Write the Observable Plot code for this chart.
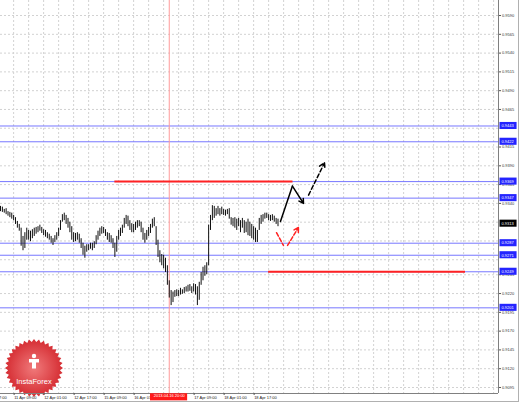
<!DOCTYPE html>
<html><head><meta charset="utf-8">
<script src="https://cdn.jsdelivr.net/npm/d3@7"></script>
<script src="https://cdn.jsdelivr.net/npm/@observablehq/plot@0.6"></script>
<style>
html,body{margin:0;padding:0;background:#fff;}
#chart{width:519px;height:402px;overflow:hidden;position:relative;}
</style></head><body><div id="chart"></div>
<script>
// Hourly bars (bar index = hours since 11 Apr 02:00, weekend skipped)
const highs = [
0.9336,0.9335,0.9332,0.9333,0.9329,0.9328,0.9327,0.9324,0.9321,0.9316,
0.9312,0.9307,0.9296,0.9301,0.9307,0.9304,0.9303,0.9305,0.9307,0.9308,
0.9309,0.9311,0.9308,0.9305,0.9304,0.9301,0.9299,0.9296,0.9293,0.9297,
0.9301,0.9307,0.9317,0.9325,0.9327,0.9324,0.9320,0.9315,0.9309,0.9301,
0.9300,0.9301,0.9299,0.9293,0.9287,0.9283,0.9285,0.9285,0.9287,0.9287,
0.9289,0.9297,0.9303,0.9307,0.9309,0.9308,0.9305,0.9301,0.9300,0.9297,
0.9293,0.9287,0.9296,0.9304,0.9307,0.9311,0.9320,0.9324,0.9323,0.9317,
0.9313,0.9312,0.9315,0.9317,0.9317,0.9315,0.9307,0.9300,0.9304,0.9308,
0.9312,0.9319,0.9321,0.9309,0.9291,0.9277,0.9272,0.9271,0.9267,0.9257,
0.9237,0.9224,0.9222,0.9224,0.9225,0.9224,0.9227,0.9225,0.9228,0.9229,
0.9231,0.9232,0.9229,0.9233,0.9232,0.9229,0.9235,0.9248,0.9255,0.9257,
0.9261,0.9311,0.9324,0.9337,0.9336,0.9333,0.9336,0.9333,0.9335,0.9332,
0.9331,0.9332,0.9333,0.9321,0.9320,0.9321,0.9319,0.9320,0.9317,0.9320,
0.9317,0.9315,0.9319,0.9315,0.9312,0.9309,0.9307,0.9304,0.9320,0.9324,
0.9325,0.9327,0.9327,0.9325,0.9324,0.9325,0.9323,0.9320,0.9319];
const lows = [
0.9329,0.9328,0.9327,0.9325,0.9323,0.9321,0.9319,0.9317,0.9312,0.9307,
0.9303,0.9283,0.9277,0.9280,0.9291,0.9291,0.9289,0.9293,0.9296,0.9299,
0.9301,0.9303,0.9300,0.9297,0.9295,0.9293,0.9291,0.9287,0.9284,0.9288,
0.9291,0.9296,0.9304,0.9315,0.9317,0.9312,0.9307,0.9301,0.9291,0.9288,
0.9289,0.9291,0.9287,0.9280,0.9271,0.9267,0.9275,0.9277,0.9279,0.9277,
0.9280,0.9285,0.9291,0.9296,0.9299,0.9300,0.9296,0.9291,0.9288,0.9287,
0.9280,0.9268,0.9275,0.9291,0.9296,0.9300,0.9307,0.9312,0.9309,0.9304,
0.9301,0.9301,0.9304,0.9307,0.9309,0.9301,0.9291,0.9287,0.9291,0.9296,
0.9300,0.9307,0.9309,0.9284,0.9268,0.9261,0.9257,0.9253,0.9248,0.9231,
0.9214,0.9204,0.9208,0.9215,0.9216,0.9216,0.9218,0.9219,0.9220,0.9222,
0.9222,0.9223,0.9220,0.9222,0.9218,0.9204,0.9211,0.9231,0.9237,0.9243,
0.9245,0.9257,0.9304,0.9317,0.9320,0.9323,0.9325,0.9323,0.9325,0.9324,
0.9323,0.9325,0.9319,0.9311,0.9309,0.9307,0.9304,0.9309,0.9301,0.9307,
0.9300,0.9301,0.9297,0.9296,0.9293,0.9291,0.9288,0.9288,0.9304,0.9312,
0.9315,0.9319,0.9320,0.9317,0.9316,0.9317,0.9315,0.9312,0.9309];

const blueLevels = [0.9443, 0.9422, 0.9369, 0.9347, 0.9287, 0.9271, 0.9249, 0.9201];
const currentPrice = 0.9313;
// grid levels of the price scale; the labels hidden under level boxes are left out of the labelled list
const priceGrid = [0.9590,0.9565,0.9540,0.9515,0.9490,0.9465,0.9440,0.9415,0.9390,0.9365,0.9340,
  0.9315,0.9290,0.9265,0.9245,0.9220,0.9195,0.9170,0.9145,0.9120,0.9095];
const priceLabels = [0.9590,0.9565,0.9540,0.9515,0.9490,0.9465,0.9415,0.9390,0.9365,0.9340,
  0.9245,0.9220,0.9195,0.9170,0.9145,0.9120,0.9095];
const timeTickIdx = [-9, 7, 23, 39, 55, 71, 103, 119, 135];
const timeTickLabels = ["10 Apr 17:00","11 Apr 09:00","12 Apr 01:00","12 Apr 17:00","15 Apr 09:00",
  "16 Apr 01:00","17 Apr 09:00","18 Apr 01:00","18 Apr 17:00"];
const markerIdx = 90;
const markerLabel = "2013.04.16 20:00";

// red level segments
const redLevel = [0.9369, 0.9249];
const redFrom = [61, 143];
const redTo = [156, 248];

// black forecast arrow
const blackIdx = [149.3, 155.7, 161.6];
const blackPrice = [0.9316, 0.9363, 0.9340];
const blackDashFrom = [164.3, 0.9351];
const blackDashTo = [172.8, 0.9394];
// red alternative arrow
const redArrIdx = [147.2, 150.9, 153.1, 158.9];
const redArrPrice = [0.9301, 0.9284, 0.9284, 0.9308];

const bars = highs.map((h, i) => ({i, high: h, low: lows[i]}));
const levelRows = blueLevels.map(v => ({v}));
const redSegs = redLevel.map((v, k) => ({v, a: redFrom[k], b: redTo[k]}));
const blackPts = blackIdx.map((x, k) => ({x, y: blackPrice[k]}));

const xMax = 265.6, yMin = 0.9087, yMax = 0.9610;
const boxX1 = 266.4, boxX2 = 275.5, boxH = 0.00047;
const fmt = d => d.toFixed(4);

function logoMark() {
  const g = d3.create("svg:g");
  const defs = g.append("defs");
  const grad = defs.append("radialGradient").attr("id", "lg");
  grad.append("stop").attr("offset", "0%").attr("stop-color", "#f07a7b");
  grad.append("stop").attr("offset", "100%").attr("stop-color", "#d52c32");
  const cx = 34, cy = 368, R = 29, r = 26, n = 36;
  const pts = d3.range(2 * n).map(k => {
    const a = k * Math.PI / n, rr = k % 2 ? r : R;
    return [cx + rr * Math.sin(a), cy - rr * Math.cos(a)];
  });
  g.append("path").attr("d", "M" + pts.join("L") + "Z").attr("fill", "url(#lg)");
  g.append("circle").attr("cx", cx).attr("cy", cy - 12).attr("r", 2.2).attr("fill", "white");
  g.append("path").attr("d", `M${cx-5},${cy-9}h10v3.5h-3v6h-4v-6h-3z`).attr("fill", "white");
  g.append("text").attr("x", cx).attr("y", cy + 16).attr("text-anchor", "middle")
    .attr("fill", "white").attr("font-size", 7.5).attr("font-family", "Liberation Sans, Arial")
    .text("InstaForex");
  return g.node();
}

const chart = Plot.plot({
  width: 519, height: 402,
  marginLeft: 0, marginRight: 21, marginTop: 0, marginBottom: 9,
  style: {background: "white", fontFamily: "Liberation Sans, Arial", fontSize: "4px", overflow: "visible"},
  x: {domain: [0, xMax], axis: null},
  y: {domain: [yMin, yMax], axis: null},
  marks: [
    Plot.gridY(priceGrid, {stroke: "#d2d2d2", strokeOpacity: 1, strokeDasharray: "2,2"}),
    Plot.gridX(d3.range(-1, xMax, 8), {stroke: "#d2d2d2", strokeOpacity: 1, strokeDasharray: "2,2"}),
    () => logoMark(),
    Plot.ruleY(levelRows, {y: "v", stroke: "#7777ff", strokeWidth: 1}),
    Plot.ruleX([markerIdx], {stroke: "#ff9a9a", strokeWidth: 1}),
    Plot.ruleY(redSegs, {y: "v", x1: "a", x2: "b", stroke: "#ff2222", strokeWidth: 2}),
    Plot.ruleX(bars, {x: "i", y1: "low", y2: "high", stroke: "#111", strokeWidth: 1}),
    Plot.line(blackPts.slice(0, 2), {x: "x", y: "y", stroke: "#000", strokeWidth: 1.5}),
    Plot.arrow([0], {x1: () => blackIdx[1], y1: () => blackPrice[1], x2: () => blackIdx[2], y2: () => blackPrice[2],
      stroke: "#000", strokeWidth: 1.5, headLength: 5, bend: 0}),
    Plot.arrow([0], {x1: () => blackDashFrom[0], y1: () => blackDashFrom[1], x2: () => blackDashTo[0], y2: () => blackDashTo[1],
      stroke: "#000", strokeWidth: 1.5, headLength: 6, bend: 0, strokeDasharray: "4,2.5"}),
    Plot.arrow([0], {x1: () => redArrIdx[0], y1: () => redArrPrice[0], x2: () => redArrIdx[1], y2: () => redArrPrice[1],
      stroke: "#ff2222", strokeWidth: 1.5, headLength: 0, bend: 0, strokeDasharray: "4,2"}),
    Plot.arrow([0], {x1: () => redArrIdx[2], y1: () => redArrPrice[2], x2: () => redArrIdx[3], y2: () => redArrPrice[3],
      stroke: "#ff2222", strokeWidth: 1.5, headLength: 5, bend: 0, strokeDasharray: "4,2"}),
    Plot.ruleX([xMax], {stroke: "#808080"}),
    Plot.ruleY([yMin], {stroke: "#808080"}),
    Plot.axisY({anchor: "right", ticks: priceLabels, tickFormat: fmt, tickSize: 2, tickPadding: 1.5,
      fontSize: 4, fill: "#333", stroke: "#555"}),
    Plot.axisX({anchor: "bottom", ticks: timeTickIdx, tickFormat: d => timeTickLabels[timeTickIdx.indexOf(d)],
      textAnchor: "start", tickSize: 2, tickPadding: 1, dx: 0.5, fontSize: 4, fill: "#222", stroke: "#555"}),
    Plot.rect(levelRows, {x1: () => boxX1, x2: () => boxX2, y1: d => d.v - boxH, y2: d => d.v + boxH, fill: "#2424ff"}),
    Plot.text(levelRows, {y: "v", text: d => fmt(d.v), frameAnchor: "right", dx: 3, textAnchor: "start",
      fill: "white", fontSize: 4}),
    Plot.rect([currentPrice], {x1: () => boxX1, x2: () => boxX2, y1: d => d - boxH, y2: d => d + boxH, fill: "#000"}),
    Plot.text([currentPrice], {y: d => d, text: fmt, frameAnchor: "right", dx: 3, textAnchor: "start",
      fill: "white", fontSize: 4}),
    Plot.rect([markerIdx], {x1: d => d - 10, x2: d => d + 9.8, y1: () => yMin - 0.00003, y2: () => yMin - 0.00098, fill: "#ff1a1a"}),
    Plot.text([markerLabel], {x: () => markerIdx, frameAnchor: "bottom", dy: 3.5, text: d => d,
      fill: "white", fontSize: 4, textAnchor: "middle"})
  ]
});
document.getElementById("chart").appendChild(chart);
const border = d3.select(chart).append("g");
border.append("line").attr("x1", 0).attr("x2", 519).attr("y1", 401.5).attr("y2", 401.5).attr("stroke", "#b0b0b0");
border.append("line").attr("x1", 518.5).attr("x2", 518.5).attr("y1", 0).attr("y2", 402).attr("stroke", "#b0b0b0");
</script></body></html>
